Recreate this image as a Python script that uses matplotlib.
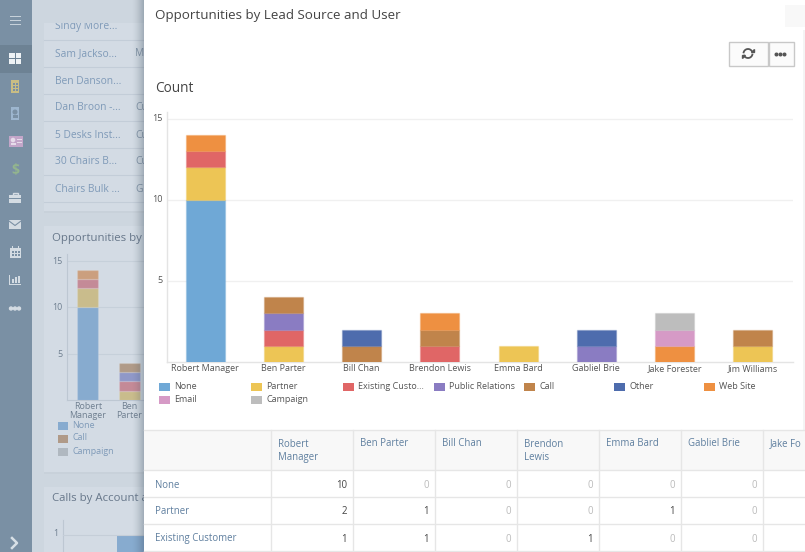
import matplotlib
matplotlib.use("Agg")
import matplotlib.pyplot as plt
from matplotlib.patches import Rectangle, Circle, Polygon
from matplotlib.colors import to_rgba
from matplotlib.transforms import ScaledTranslation
import numpy as np

plt.rcParams['font.family'] = ['Open Sans', 'DejaVu Sans']

users = ["Robert Manager", "Ben Parter", "Bill Chan", "Brendon Lewis", "Emma Bard",
         "Gabliel Brie", "Jake Forester", "Jim Williams"]
sources = ["None", "Partner", "Existing Customer", "Public Relations", "Call", "Other",
           "Web Site", "Email", "Campaign"]
legend_labels = ["None", "Partner", "Existing Custo...", "Public Relations", "Call", "Other",
                 "Web Site", "Email", "Campaign"]
none_v     = [10, 0, 0, 0, 0, 0, 0, 0]
partner_v  = [2, 1, 0, 0, 1, 0, 0, 1]
existing_v = [1, 1, 0, 1, 0, 0, 0, 0]
public_v   = [0, 1, 0, 0, 0, 1, 0, 0]
call_v     = [0, 1, 1, 1, 0, 0, 0, 1]
other_v    = [0, 0, 1, 0, 0, 1, 0, 0]
web_v      = [1, 0, 0, 1, 0, 0, 1, 0]
email_v    = [0, 0, 0, 0, 0, 0, 1, 0]
campaign_v = [0, 0, 0, 0, 0, 0, 1, 0]
series = [none_v, partner_v, existing_v, public_v, call_v, other_v, web_v, email_v, campaign_v]
colors = ["#6fa8d6", "#edc555", "#e06666", "#8a7cc2", "#c0844b", "#4e6cad", "#ee9041", "#d69ac6", "#bdbdbd"]
muted = ["#87abcf", "#c9bc8c", "#c48a97", "#9098c8", "#b09a88", "#7f93b8", "#cb9f7e", "#c0a3c3", "#b0b8c0"]

tick_vals = [5, 10, 15]
bg_table_names = ["Sindy More...", "Sam Jackso...", "Ben Danson...", "Dan Broon -...",
                  "5 Desks Inst...", "30 Chairs B...", "Chairs Bulk ..."]
bg_table_col2 = ["", "M", "", "Cu", "Cu", "Cu", "G"]
bg_legend = ["None", "Call", "Campaign"]
bg_legend_colors = [muted[0], muted[4], muted[8]]
bg_users = ["Robert\nManager", "Ben\nParter"]
table_rows = ["None", "Partner", "Existing Customer"]
table_heads = ["Robert\nManager", "Ben Parter", "Bill Chan", "Brendon\nLewis", "Emma Bard",
               "Gabliel Brie", "Jake Fo"]

W, H = 805, 552
fig = plt.figure(figsize=(W / 100, H / 100), dpi=100, facecolor="#cdd6df")


def axes_px(x0, y0, x1, y1, **kw):
    return fig.add_axes([x0 / W, 1 - y1 / H, (x1 - x0) / W, (y1 - y0) / H], **kw)


def chrome_axes(z):
    a = fig.add_axes([0, 0, 1, 1], zorder=z)
    a.set_xlim(0, W)
    a.set_ylim(H, 0)
    a.axis("off")
    a.patch.set_alpha(0)
    return a


def rect(a, x0, y0, x1, y1, c, **kw):
    a.add_patch(Rectangle((x0, y0), x1 - x0, y1 - y0, facecolor=c, edgecolor=kw.pop("ec", "none"), **kw))


def stacked(a, cols, width, edge):
    base = np.zeros(8)
    for v, c in zip(series, cols):
        v = np.array(v, dtype=float)
        m = v > 0
        a.bar(np.arange(8)[m], v[m], width, bottom=base[m], color=c,
              edgecolor=edge(c), lw=1, zorder=3)
        base += v


def nudge_labels(a, labels, dy_px):
    off = ScaledTranslation(0, dy_px / 100, fig.dpi_scale_trans)
    for t in labels:
        t.set_transform(t.get_transform() + off)


# ---------- dimmed page behind the modal ----------
bg = chrome_axes(0)
rect(bg, 44, 23, 144, 212, "#d3dbe4")
rect(bg, 44, 226, 144, 473, "#d3dbe4")
rect(bg, 44, 487, 144, 552, "#d3dbe4")
rect(bg, 44, 211, 144, 213, "#c8d1da")
rect(bg, 44, 472, 144, 474, "#c8d1da")
for i, y in enumerate([27, 54, 81, 108, 135, 162, 189]):
    bg.text(55, y, bg_table_names[i], fontsize=7.4, color="#7f9ab8", va="center")
    if bg_table_col2[i]:
        bg.text(135, y, bg_table_col2[i], fontsize=7.4, color="#8496a8", va="center")
rect(bg, 44, 0, 144, 23, "#cdd6df", zorder=5)
for y in [39.5, 66.5, 93.5, 120.5, 147.5, 174.5, 201.5]:
    bg.plot([44, 144], [y, y], color="#c3cdd8", lw=0.8)
bg.text(52, 238, "Opportunities by", fontsize=8.2, color="#67778a", va="center")
bg.text(52, 499, "Calls by Account a", fontsize=8.2, color="#67778a", va="center")
for lab, yy, c in zip(bg_legend, [425.5, 438.5, 451.5], bg_legend_colors):
    rect(bg, 58, yy - 3.5, 68, yy + 4.5, c)
    bg.text(72, yy - 0.5, lab, fontsize=6.4, color="#7f9ab8", va="center")
for cx, lab in zip([88, 129.5], bg_users):
    bg.text(cx, 411, lab, fontsize=6.4, color="#6f7f90", ha="center", va="center", linespacing=0.95)
bg.plot([62.5, 62.5], [520, 552], color="#bdc7d2", lw=0.8)
bg.plot([62.5, 144], [535, 535], color="#c5ced8", lw=0.8)
bg.text(58, 533, "1", fontsize=6.4, color="#6f7f90", ha="right", va="center")
rect(bg, 117, 535, 144, 552, muted[0])

# dimmed mini chart, drawn from the same data
mini = axes_px(67, 254, 67 + 42 * 8, 400, zorder=1)
mini.patch.set_alpha(0)
mini.set_xlim(-0.49, 7.51)
mini.set_ylim(0, 146 / 9.3)
stacked(mini, muted, 0.5, lambda c: to_rgba("#ffffff", 0.12))
mini.set_xticks([])
mini.set_yticks(tick_vals)
mini.set_yticklabels([str(t) for t in tick_vals], fontsize=6.4, color="#6f7f90")
mini.tick_params(length=0, pad=3)
mini.grid(axis="y", color="#c6d0da", lw=0.8)
mini.set_axisbelow(True)
for s in ["top", "right"]:
    mini.spines[s].set_visible(False)
for s in ["left", "bottom"]:
    mini.spines[s].set_color("#bdc7d2")
    mini.spines[s].set_linewidth(0.8)

# ---------- sidebar ----------
side = chrome_axes(2)
rect(side, 0, 0, 32, 552, "#7a90a4")
rect(side, 0, 45, 32, 73, "#6d8294")
ic = "#d4dce3"
dk = "#7a90a4"
for y in [16.5, 20.5, 24.5]:
    rect(side, 10, y - 1, 21, y + 0.8, "#c6d1da")
rect(side, 9, 53, 15, 58, "#eef2f5"); rect(side, 16, 53, 21, 58, "#eef2f5")
rect(side, 9, 59, 15, 64, "#eef2f5"); rect(side, 16, 59, 21, 64, "#eef2f5")
# building
rect(side, 11, 80, 19, 93, "#c9bd84")
for x in [13, 16]:
    for y in [83, 86, 89]:
        rect(side, x, y, x + 1.5, y + 1.5, dk)
# contact
rect(side, 11, 107, 19, 120, "#9db6cf")
side.add_patch(Circle((15, 112), 1.8, color=dk))
rect(side, 12.5, 115, 17.5, 117.5, dk)
# card
rect(side, 9, 136, 23, 147, "#c3a6c9")
side.add_patch(Circle((13, 140), 1.6, color="#e6dcea"))
rect(side, 10.5, 142.5, 15.5, 145, "#e6dcea")
rect(side, 17, 139, 21.5, 140.2, "#e6dcea")
rect(side, 17, 142, 21.5, 143.2, "#e6dcea")
side.text(15, 170, "$", fontsize=10, color="#93b58e", ha="center", va="center", fontweight="bold")
# briefcase
rect(side, 9, 195, 21, 203, ic)
rect(side, 12.5, 192.5, 17.5, 195, "none", ec=ic, lw=1)
rect(side, 9, 198.4, 21, 199.2, dk)
# envelope
rect(side, 9, 220, 21, 229, ic)
side.plot([9, 15, 21], [221, 225.5, 221], color=dk, lw=0.8)
# calendar
rect(side, 10, 248, 21, 258, ic)
rect(side, 12, 246, 13, 249, ic); rect(side, 18, 246, 19, 249, ic)
for x in [11.5, 14.5, 17.5]:
    for y in [251, 254]:
        rect(side, x, y, x + 2, y + 2, dk)
# chart
rect(side, 9, 275, 10, 284, ic); rect(side, 9, 283.5, 21, 284.5, ic)
for x, top in zip([12, 15, 18], [279, 277, 276]):
    rect(side, x, top, x + 1.5, 283, ic)
for x in [11, 15, 19]:
    side.add_patch(Circle((x, 308.5), 1.5, color=ic))
side.plot([12, 17, 12], [538, 543, 548], color="#d8e0e6", lw=1.8)

# ---------- modal ----------
modal = chrome_axes(3)
for i, a in enumerate(np.linspace(0.01, 0.12, 12)):
    rect(modal, 132 + i, 0, 144, 552, to_rgba("#4b5c6e", a * 0.5))
rect(modal, 144, 0, 805, 552, "#ffffff")
rect(modal, 785, 5, 805, 27, "#f8f8f8")
rect(modal, 803, 30, 805, 430, "#f4f4f4")
modal.text(155, 16, "Opportunities by Lead Source and User", fontsize=9.6, color="#444444", va="center")
modal.text(155, 88.5, "Count", fontsize=9.8, color="#444444", va="center")
rect(modal, 728.5, 41.5, 767.5, 65.5, "#fbfbfb", ec="#c8c8c8", lw=1)
rect(modal, 768.5, 41.5, 793.5, 65.5, "#fbfbfb", ec="#c8c8c8", lw=1)
th = np.linspace(0.5, 2.9, 30)
modal.plot(748 + 4.5 * np.cos(th), 53.5 - 4.5 * np.sin(th), color="#555555", lw=1.3)
modal.plot(748 + 4.5 * np.cos(th + np.pi), 53.5 - 4.5 * np.sin(th + np.pi), color="#555555", lw=1.3)
modal.add_patch(Polygon([[751, 52], [754, 52], [754, 49]], color="#555555"))
modal.add_patch(Polygon([[745, 55], [742, 55], [742, 58]], color="#555555"))
for x in [776.5, 780.5, 784.5]:
    modal.add_patch(Circle((x, 54.5), 1.3, color="#555555"))

# legend
leg_x = [159, 251, 343, 434, 524, 614, 704, 159, 251]
leg_y = [386] * 7 + [399] * 2
for x, y, lab, c in zip(leg_x, leg_y, legend_labels, colors):
    rect(modal, x, y - 3, x + 11, y + 5, c)
    modal.text(x + 15, y + 0.3, lab, fontsize=6.5, color="#555555", va="center")

# table
rect(modal, 144, 430, 805, 470, "#f8f8f8")
lc = "#e6e6e6"
for y in [429.5, 469.5, 496.5, 523.5, 550.5]:
    modal.plot([144, 805], [y, y], color=lc, lw=1)
col_x = [271, 353, 435, 517, 599, 681, 763]
for x in col_x:
    modal.plot([x - 0.5, x - 0.5], [430, 552], color=lc, lw=1)
for x, h in zip(col_x, table_heads):
    modal.text(x + 7, 451 if "\n" in h else 444, h, fontsize=6.9, color="#5f7f9f",
               va="center", linespacing=1.25, clip_on=True)
for r, (lab, y) in enumerate(zip(table_rows, [485, 512, 539])):
    modal.text(155, y, lab, fontsize=6.9, color="#5f7f9f", va="center")
    for c, x in enumerate(col_x[1:]):
        v = series[r][c]
        modal.text(x - 6, y, str(v), fontsize=6.9, ha="right", va="center",
                   color="#444444" if v else "#bbbbbb")

# main chart
ax = axes_px(167, 112, 793, 362, zorder=4)
ax.patch.set_alpha(0)
ax.set_xlim(-0.487, 7.513)
ax.set_ylim(0, 250 / 16.22)
stacked(ax, colors, 0.5, lambda c: to_rgba(c, 0.3))
ax.set_xticks(range(8))
ax.set_xticklabels(users, fontsize=6.5, color="#555555")
ax.set_yticks(tick_vals)
ax.set_yticklabels([str(t) for t in tick_vals], fontsize=6.5, color="#555555")
ax.tick_params(length=0, pad=3)
ax.tick_params(axis="x", pad=1.5)
nudge_labels(ax, ax.get_yticklabels(), 1.5)
ax.grid(axis="y", color="#f0f0f0", lw=1)
ax.set_axisbelow(True)
for s in ["top", "right"]:
    ax.spines[s].set_visible(False)
for s in ["left", "bottom"]:
    ax.spines[s].set_color("#e4e4e4")
    ax.spines[s].set_linewidth(1)

fig.savefig("out.png", dpi=100, facecolor=fig.get_facecolor())
